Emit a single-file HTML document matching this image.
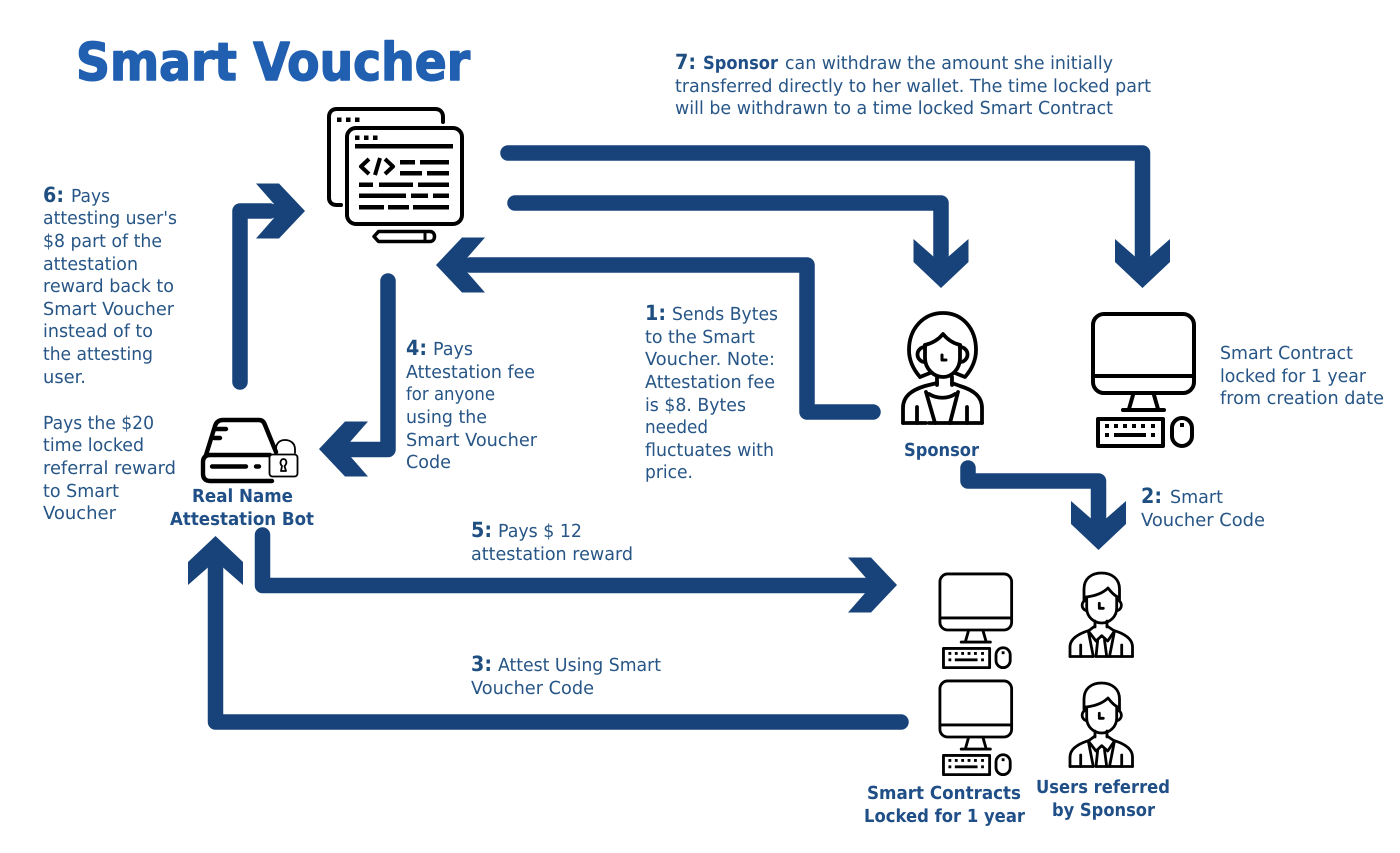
<!DOCTYPE html>
<html>
<head>
<meta charset="utf-8">
<title>Smart Voucher</title>
<style>
html,body{margin:0;padding:0;background:#fff;width:1400px;height:853px;overflow:hidden}
svg{display:block}
text{font-family:"DejaVu Sans","Liberation Sans",sans-serif;fill:#265586;text-rendering:geometricPrecision}
.t{font-size:18px}
.n{font-size:21px;font-weight:700;fill:#1f4e80}
.b{font-size:18px;font-weight:700;fill:#1f4f86}
.ln{fill:none;stroke:#17437a;stroke-width:15.5;stroke-linejoin:round;stroke-linecap:round}
.hd{fill:#17437a}
.i{fill:none;stroke:#000;stroke-width:4;stroke-linejoin:round;stroke-linecap:round}
.f{fill:#000;stroke:none}
</style>
</head>
<body>
<svg width="1400" height="853" viewBox="0 0 1400 853" xmlns="http://www.w3.org/2000/svg">
<defs>
<polygon id="hdDown" points="0,0 27.5,-26 27.5,-49 7,-31 -7,-31 -27.5,-49 -27.5,-26"/>
<g id="mon">
  <rect x="2" y="2" width="101" height="79" rx="11" class="i"/>
  <path d="M2 64H103" class="i"/>
  <path d="M42 83L38 97M63 83L67 97" class="i"/>
  <path d="M32 98H73" class="i"/>
  <rect x="7" y="107" width="65" height="27" class="i"/>
  <rect x="81" y="106" width="20" height="28" rx="10" class="i"/>
  <rect x="89" y="111" width="4" height="4" class="f"/>
  <g class="f">
    <rect x="14" y="112" width="4" height="4"/><rect x="23" y="112" width="4" height="4"/><rect x="32" y="112" width="4" height="4"/><rect x="41" y="112" width="4" height="4"/><rect x="50" y="112" width="4" height="4"/><rect x="60" y="112" width="4" height="4"/>
    <rect x="14" y="121" width="4" height="4"/><rect x="60" y="121" width="4" height="4"/><rect x="23" y="121" width="32" height="4"/>
  </g>
</g>
<g id="man">
  <g fill="none" stroke="#000" stroke-width="2.8" stroke-linejoin="round" stroke-linecap="round">
    <path d="M16 28V17C16 7 23 1 33.500 1S51.500 7 51.500 17V28"/>
    <path d="M18 25C27 24 35 21 40 16C43 20 46 23 49.500 25"/>
    <path d="M18.700 25V36C18.700 45 26 51 33.700 51S48.700 45 48.700 36V25"/>
    <path d="M18 28A5.500 5.500 0 0 0 18 38.500M49.500 28A5.500 5.500 0 0 1 49.500 38.500"/>
    <path d="M31.300 31.300V36.300H35.300"/>
    <path d="M27 49V55M39 49V55"/>
    <path d="M27 54L20.300 59L28 69L33.700 63.700L39.700 69L46.500 59L39 54"/>
    <path d="M29.700 68L28 84.500M36.500 68L38.700 84.500"/>
    <path d="M20.300 59L25.300 84.500M46.500 59L41.500 84.500"/>
    <path d="M2 84.500V75C2 67 10 62 20.300 58.700"/>
    <path d="M64.500 84.500V75C64.500 67 57 62 46.500 58.700"/>
    <path d="M2 84.500H25M28 84.500H64.500"/>
    <path d="M12.700 73V84.500M53.700 73V84.500"/>
  </g>
</g>
</defs>

<!-- title -->
<text x="76" y="80" textLength="394" lengthAdjust="spacingAndGlyphs" style="font-size:52px;font-weight:700;fill:#215fb1;stroke:#215fb1;stroke-width:1.600px;stroke-linejoin:round">Smart Voucher</text>

<!-- connectors -->
<path class="ln" d="M508 153H1142.500V255"/>
<use href="#hdDown" x="1142.500" y="288" class="hd"/>
<path class="ln" d="M515 203H941V255"/>
<use href="#hdDown" x="941" y="288" class="hd"/>
<path class="ln" d="M873 412H807V265H470"/>
<use href="#hdDown" transform="translate(436 265) rotate(90)" class="hd"/>
<path class="ln" d="M240 382V211H270"/>
<use href="#hdDown" transform="translate(305 211) rotate(-90)" class="hd"/>
<path class="ln" d="M388 281V449.500H350"/>
<use href="#hdDown" transform="translate(319 449) rotate(90)" class="hd"/>
<path class="ln" d="M262.500 535V585.500H865"/>
<use href="#hdDown" transform="translate(897 585) rotate(-90)" class="hd"/>
<path class="ln" d="M901 722H215.500V565"/>
<use href="#hdDown" transform="translate(215.500 536) rotate(180)" class="hd"/>
<path class="ln" d="M968 468V481H1098.500V520"/>
<use href="#hdDown" x="1098.500" y="550" class="hd"/>

<!-- code window icon -->
<g>
  <path class="i" d="M341 205H336C332 205 329 202 329 198V117C329 112 332 109 337 109H435C440 109 443 112 443 117V122"/>
  <rect x="347" y="128" width="115" height="96" rx="9" class="i"/>
  <g class="f">
    <rect x="337" y="117.500" width="4.500" height="4.500"/><rect x="346" y="117.500" width="4.500" height="4.500"/><rect x="355" y="117.500" width="4.500" height="4.500"/>
    <rect x="355" y="135.500" width="4.500" height="4.500"/><rect x="364" y="135.500" width="4.500" height="4.500"/><rect x="373" y="135.500" width="4.500" height="4.500"/>
    <rect x="355" y="144" width="98" height="4.500"/>
    <rect x="400" y="160" width="15" height="4.500"/><rect x="420" y="160" width="29" height="4.500"/>
    <rect x="400" y="171" width="22" height="4.500"/><rect x="427" y="171" width="22" height="4.500"/>
    <rect x="359" y="182.500" width="14" height="4.500"/><rect x="379" y="182.500" width="34" height="4.500"/><rect x="418" y="182.500" width="31" height="4.500"/>
    <rect x="359" y="193.500" width="47" height="4.500"/><rect x="411" y="193.500" width="17" height="4.500"/><rect x="433" y="193.500" width="16" height="4.500"/>
    <rect x="359" y="205" width="25" height="4.500"/><rect x="388" y="205" width="21" height="4.500"/><rect x="413" y="205" width="36" height="4.500"/>
  </g>
  <path class="i" style="stroke-linecap:butt" d="M369 159L361 166.500L369 174M380 158L375 175M385 159L393 166.500L385 174"/>
  <path class="i" style="stroke-width:3.500" d="M374 236.500L378.500 231.500H430C436 231.500 436 241.500 430 241.500H378.500Z"/>
  <path class="i" style="stroke-width:3" d="M425 232V241"/>
</g>

<!-- sponsor icon -->
<g class="i" style="stroke-width:3.800">
  <path d="M920 377C913 369 909 360 909 350C909 328 924 313 943 313S976 328 976 350C976 360 972 369 965 377L955 373M920 377L930 373"/>
  <path d="M925 345C933 343 939 339 943 334C947 339 952 343 960 345"/>
  <path d="M925 345V358C925 369 934 377 943 377S960 369 960 358V345"/>
  <path d="M925 347A7.500 7.500 0 0 0 925 362M960 347A7.500 7.500 0 0 1 960 362"/>
  <path d="M942 355V360H946" style="stroke-width:3"/>
  <path d="M937 377V385M952 377V385"/>
  <path d="M903 423V408C903 396 912 390 925 386L937 383M982 423V408C982 396 973 390 960 386L952 383"/>
  <path d="M903 423H926M929 423H982"/>
  <path d="M926 392L935 423M958 392L950 423"/>
  <path d="M929 394C937 399 948 399 955 394"/>
  <path d="M917 407V423M967 407V423"/>
</g>

<!-- monitors -->
<use href="#mon" x="1091" y="312"/>
<use href="#mon" transform="translate(938.500 572.500) scale(.71)"/>
<use href="#mon" transform="translate(938.500 679.500) scale(.71)"/>

<!-- men -->
<use href="#man" x="1068" y="572"/>
<use href="#man" x="1068" y="682"/>

<!-- bot icon -->
<g class="i" style="stroke-width:4.400">
  <path d="M206 455L215 426C216 422 219 420 223 420H259C262 420 264 422 265 425L276 452"/>
  <path d="M270 455H210C205 455 203 458 203 462V474C203 479 206 481 210 481H272"/>
  <path d="M212 466.500H246M256 466.500H259"/>
  <path d="M216 429H226M214 438H220"/>
  <rect x="269.500" y="454.500" width="28" height="22" rx="3" style="stroke-width:1.800;fill:#fff"/>
  <path style="stroke-width:1.800" d="M276 453V449C276 443 280 440 285 440S295 443 295 449V453"/>
  <path style="stroke-width:1.800" d="M281 471H286L284.500 466C288 463 286 459 283.500 459C281 459 279 463 282 466Z"/>
</g>

<!-- labels: 7 -->
<text class="n" x="675" y="69" textLength="21" lengthAdjust="spacingAndGlyphs">7:</text>
<text class="b" x="703" y="69" textLength="75" lengthAdjust="spacingAndGlyphs">Sponsor</text>
<text class="t" x="785" y="69" textLength="328" lengthAdjust="spacingAndGlyphs">can withdraw the amount she initially</text>
<text class="t" x="675" y="92" textLength="476" lengthAdjust="spacingAndGlyphs">transferred directly to her wallet. The time locked part</text>
<text class="t" x="675" y="114" textLength="438" lengthAdjust="spacingAndGlyphs">will be withdrawn to a time locked Smart Contract</text>

<!-- labels: 6 -->
<text class="n" x="43" y="202" textLength="21" lengthAdjust="spacingAndGlyphs">6:</text>
<text class="t" x="71" y="202" textLength="39" lengthAdjust="spacingAndGlyphs">Pays</text>
<text class="t" x="43" y="224" textLength="134" lengthAdjust="spacingAndGlyphs">attesting user's</text>
<text class="t" x="43" y="247" textLength="119" lengthAdjust="spacingAndGlyphs">$8 part of the</text>
<text class="t" x="43" y="270" textLength="95" lengthAdjust="spacingAndGlyphs">attestation</text>
<text class="t" x="43" y="292" textLength="131" lengthAdjust="spacingAndGlyphs">reward back to</text>
<text class="t" x="43" y="315" textLength="131" lengthAdjust="spacingAndGlyphs">Smart Voucher</text>
<text class="t" x="43" y="337" textLength="110" lengthAdjust="spacingAndGlyphs">instead of to</text>
<text class="t" x="43" y="360" textLength="110" lengthAdjust="spacingAndGlyphs">the attesting</text>
<text class="t" x="43" y="383" textLength="43" lengthAdjust="spacingAndGlyphs">user.</text>
<text class="t" x="43" y="429" textLength="111" lengthAdjust="spacingAndGlyphs">Pays the $20</text>
<text class="t" x="43" y="451" textLength="101" lengthAdjust="spacingAndGlyphs">time locked</text>
<text class="t" x="43" y="474" textLength="133" lengthAdjust="spacingAndGlyphs">referral reward</text>
<text class="t" x="43" y="497" textLength="76" lengthAdjust="spacingAndGlyphs">to Smart</text>
<text class="t" x="43" y="519" textLength="73" lengthAdjust="spacingAndGlyphs">Voucher</text>

<!-- labels: 4 -->
<text class="n" x="406" y="355" textLength="21" lengthAdjust="spacingAndGlyphs">4:</text>
<text class="t" x="433" y="355" textLength="40" lengthAdjust="spacingAndGlyphs">Pays</text>
<text class="t" x="406" y="378" textLength="129" lengthAdjust="spacingAndGlyphs">Attestation fee</text>
<text class="t" x="406" y="400" textLength="89" lengthAdjust="spacingAndGlyphs">for anyone</text>
<text class="t" x="406" y="423" textLength="81" lengthAdjust="spacingAndGlyphs">using the</text>
<text class="t" x="406" y="446" textLength="131" lengthAdjust="spacingAndGlyphs">Smart Voucher</text>
<text class="t" x="406" y="468" textLength="45" lengthAdjust="spacingAndGlyphs">Code</text>

<!-- labels: 1 -->
<text class="n" x="645" y="320" textLength="21" lengthAdjust="spacingAndGlyphs">1:</text>
<text class="t" x="672" y="320" textLength="106" lengthAdjust="spacingAndGlyphs">Sends Bytes</text>
<text class="t" x="645" y="343" textLength="110" lengthAdjust="spacingAndGlyphs">to the Smart</text>
<text class="t" x="645" y="365" textLength="130" lengthAdjust="spacingAndGlyphs">Voucher. Note:</text>
<text class="t" x="645" y="388" textLength="130" lengthAdjust="spacingAndGlyphs">Attestation fee</text>
<text class="t" x="645" y="411" textLength="101" lengthAdjust="spacingAndGlyphs">is $8. Bytes</text>
<text class="t" x="645" y="433" textLength="63" lengthAdjust="spacingAndGlyphs">needed</text>
<text class="t" x="645" y="456" textLength="129" lengthAdjust="spacingAndGlyphs">fluctuates with</text>
<text class="t" x="645" y="478" textLength="48" lengthAdjust="spacingAndGlyphs">price.</text>

<!-- smart contract note -->
<text class="t" x="1220" y="359" textLength="133" lengthAdjust="spacingAndGlyphs">Smart Contract</text>
<text class="t" x="1220" y="382" textLength="146" lengthAdjust="spacingAndGlyphs">locked for 1 year</text>
<text class="t" x="1220" y="404" textLength="164" lengthAdjust="spacingAndGlyphs">from creation date</text>

<!-- labels: 2 -->
<text class="n" x="1141" y="503" textLength="21" lengthAdjust="spacingAndGlyphs">2:</text>
<text class="t" x="1170" y="503" textLength="53" lengthAdjust="spacingAndGlyphs">Smart</text>
<text class="t" x="1141" y="526" textLength="124" lengthAdjust="spacingAndGlyphs">Voucher Code</text>

<!-- labels: 5 -->
<text class="n" x="471" y="537" textLength="21" lengthAdjust="spacingAndGlyphs">5:</text>
<text class="t" x="498" y="537" textLength="84" lengthAdjust="spacingAndGlyphs">Pays $ 12</text>
<text class="t" x="471" y="560" textLength="162" lengthAdjust="spacingAndGlyphs">attestation reward</text>

<!-- labels: 3 -->
<text class="n" x="471" y="671" textLength="21" lengthAdjust="spacingAndGlyphs">3:</text>
<text class="t" x="498" y="671" textLength="163" lengthAdjust="spacingAndGlyphs">Attest Using Smart</text>
<text class="t" x="471" y="694" textLength="123" lengthAdjust="spacingAndGlyphs">Voucher Code</text>

<!-- bold captions -->
<text class="b" x="904" y="456" textLength="75" lengthAdjust="spacingAndGlyphs">Sponsor</text>
<text class="b" x="192" y="502" textLength="101" lengthAdjust="spacingAndGlyphs">Real Name</text>
<text class="b" x="170" y="525" textLength="144" lengthAdjust="spacingAndGlyphs">Attestation Bot</text>
<text class="b" x="867" y="799" textLength="154" lengthAdjust="spacingAndGlyphs">Smart Contracts</text>
<text class="b" x="864" y="822" textLength="161" lengthAdjust="spacingAndGlyphs">Locked for 1 year</text>
<text class="b" x="1036" y="793" textLength="134" lengthAdjust="spacingAndGlyphs">Users referred</text>
<text class="b" x="1052" y="816" textLength="103" lengthAdjust="spacingAndGlyphs">by Sponsor</text>
</svg>
</body>
</html>
